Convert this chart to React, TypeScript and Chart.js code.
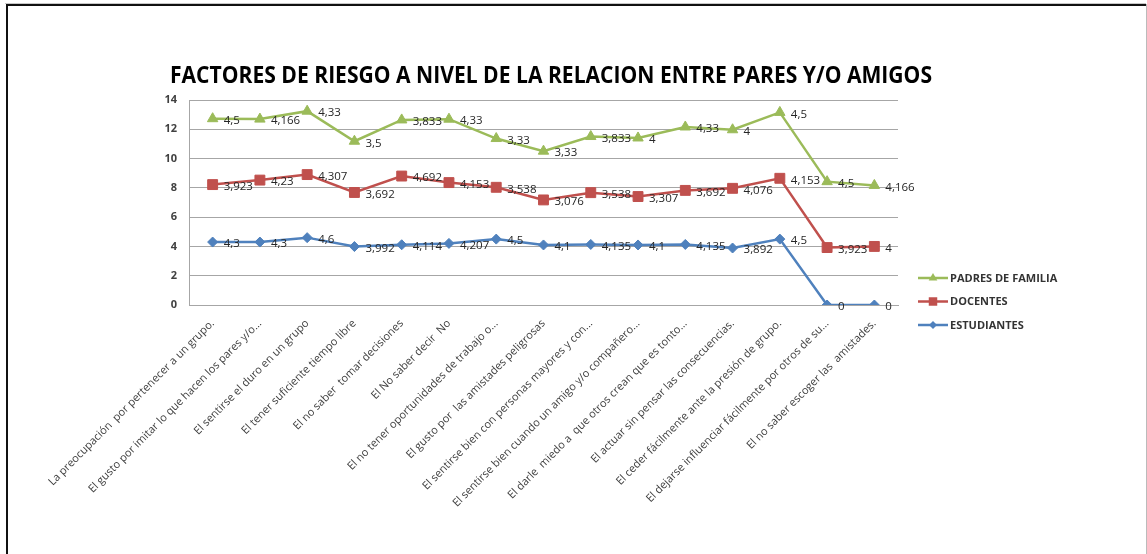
import React, { useEffect, useRef } from 'react';
import { Chart, registerables } from 'chart.js';

Chart.register(...registerables);

const chartTitle = 'FACTORES DE RIESGO A NIVEL DE LA RELACION ENTRE PARES Y/O AMIGOS';

const categories = [
  'La preocupación  por pertenecer a un grupo.',
  'El gusto por imitar lo que hacen los pares y/o...',
  'El sentirse el duro en un grupo',
  'El tener suficiente tiempo libre',
  'El no saber  tomar decisiones',
  'El No saber decir  No',
  'El no tener oportunidades de trabajo o...',
  'El gusto por  las amistades peligrosas',
  'El sentirse bien con personas mayores y con...',
  'El sentirse bien cuando un amigo y/o compañero...',
  'El darle  miedo a  que otros crean que es tonto...',
  'El actuar sin pensar las consecuencias.',
  'El ceder fácilmente ante la presión de grupo.',
  'El dejarse influenciar fácilmente por otros de su...',
  'El no saber escoger las  amistades.',
];

const estudiantes = [4.3, 4.3, 4.6, 3.992, 4.114, 4.207, 4.5, 4.1, 4.135, 4.1, 4.135, 3.892, 4.5, 0, 0];
const docentes = [3.923, 4.23, 4.307, 3.692, 4.692, 4.153, 3.538, 3.076, 3.538, 3.307, 3.692, 4.076, 4.153, 3.923, 4];
const padres = [4.5, 4.166, 4.33, 3.5, 3.833, 4.33, 3.33, 3.33, 3.833, 4, 4.33, 4, 4.5, 4.5, 4.166];

const yMin = 0;
const yMax = 14;
const yStep = 2;

const GREEN = '#9BBB59';
const RED = '#C0504D';
const BLUE = '#4F81BD';

function drawMarker(ctx: CanvasRenderingContext2D, style: string, x: number, y: number, r: number, color: string) {
  ctx.save();
  ctx.fillStyle = color;
  ctx.beginPath();
  if (style === 'triangle') {
    ctx.moveTo(x, y - r);
    ctx.lineTo(x + r * 0.866, y + r * 0.5);
    ctx.lineTo(x - r * 0.866, y + r * 0.5);
  } else if (style === 'rect') {
    const s = r * Math.SQRT1_2;
    ctx.rect(x - s, y - s, 2 * s, 2 * s);
  } else {
    ctx.moveTo(x, y - r);
    ctx.lineTo(x + r, y);
    ctx.lineTo(x, y + r);
    ctx.lineTo(x - r, y);
  }
  ctx.closePath();
  ctx.fill();
  ctx.restore();
}

const customPlugin = {
  id: 'customDecor',
  beforeDraw(chart: any) {
    const { ctx, width, height } = chart;
    ctx.save();
    ctx.fillStyle = '#ffffff';
    ctx.fillRect(0, 0, width, height);
    ctx.fillStyle = '#c8c8c8';
    ctx.fillRect(5, 3, 1141, 1);
    ctx.fillStyle = '#111111';
    ctx.fillRect(6, 4, 1140, 2);
    ctx.fillRect(6, 4, 2, height - 4);
    ctx.fillStyle = '#bbbbbb';
    ctx.fillRect(1146, 4, 1, height - 4);
    ctx.restore();
  },
  afterDatasetsDraw(chart: any) {
    const { ctx } = chart;
    ctx.save();
    ctx.font = '11.5px "Open Sans"';
    ctx.fillStyle = '#262626';
    ctx.textAlign = 'left';
    ctx.textBaseline = 'middle';
    chart.data.datasets.forEach((ds: any, di: number) => {
      const meta = chart.getDatasetMeta(di);
      meta.data.forEach((pt: any, i: number) => {
        const v = ds.data[i];
        const txt = String(v).replace('.', ',');
        ctx.fillText(txt, pt.x + 11, pt.y + 2);
      });
    });
    ctx.restore();
  },
  afterDraw(chart: any) {
    const { ctx } = chart;
    // title
    ctx.save();
    ctx.font = 'bold 24px "Open Sans"';
    ctx.fillStyle = '#000000';
    ctx.textBaseline = 'alphabetic';
    ctx.textAlign = 'left';
    const w = ctx.measureText(chartTitle).width;
    const target = 762;
    const sx = target / w;
    ctx.translate(170, 83);
    ctx.scale(sx, 1);
    ctx.fillText(chartTitle, 0, 0);
    ctx.restore();

    // legend
    ctx.save();
    const items = [...chart.data.datasets].reverse();
    const ys = [278, 301.5, 325];
    items.forEach((ds: any, i: number) => {
      const y = ys[i];
      ctx.strokeStyle = ds.borderColor;
      ctx.lineWidth = 2.5;
      ctx.beginPath();
      ctx.moveTo(918, y);
      ctx.lineTo(948, y);
      ctx.stroke();
      const r = ds.pointStyle === 'triangle' ? 5 : ds.pointStyle === 'rect' ? 6 : 4;
      drawMarker(ctx, ds.pointStyle, 933, y, r, ds.borderColor);
      ctx.font = 'bold 11px "Open Sans"';
      ctx.fillStyle = '#333333';
      ctx.textBaseline = 'middle';
      ctx.textAlign = 'left';
      ctx.fillText(ds.label, 950, y + 0.5);
    });
    ctx.restore();
  },
};

export default function App() {
  const canvasRef = useRef<HTMLCanvasElement | null>(null);

  useEffect(() => {
    if (!canvasRef.current) return;
    const chart = new Chart(canvasRef.current, {
      type: 'line',
      data: {
        labels: categories,
        datasets: [
          {
            label: 'ESTUDIANTES',
            data: estudiantes,
            borderColor: BLUE,
            backgroundColor: BLUE,
            pointStyle: 'rectRot',
            pointRadius: 5,
            pointBorderWidth: 1,
            borderWidth: 2.5,
            tension: 0,
            fill: false,
          },
          {
            label: 'DOCENTES',
            data: docentes,
            borderColor: RED,
            backgroundColor: RED,
            pointStyle: 'rect',
            pointRadius: 7,
            pointBorderWidth: 1,
            borderWidth: 2.5,
            tension: 0,
            fill: false,
          },
          {
            label: 'PADRES DE FAMILIA',
            data: padres,
            borderColor: GREEN,
            backgroundColor: GREEN,
            pointStyle: 'triangle',
            pointRadius: 6,
            pointBorderWidth: 1,
            borderWidth: 2.5,
            tension: 0,
            fill: false,
          },
        ],
      },
      options: {
        responsive: false,
        animation: false,
        devicePixelRatio: 1,
        layout: { padding: { left: 149, right: 249, top: 100, bottom: 0 } },
        plugins: {
          legend: { display: false },
          title: { display: false },
          tooltip: { enabled: false },
        },
        scales: {
          x: {
            offset: true,
            grid: { display: false, drawTicks: false },
            border: { display: true, color: '#a6a6a6', width: 1 },
            ticks: {
              autoSkip: false,
              minRotation: 45,
              maxRotation: 45,
              padding: 12,
              color: '#404040',
              font: { family: '"Open Sans"', size: 11 },
            },
            afterFit: (s: any) => {
              s.height = 249;
            },
          },
          y: {
            stacked: true,
            min: yMin,
            max: yMax,
            grid: { color: '#a6a6a6', drawTicks: false },
            border: { display: true, color: '#a6a6a6', width: 1 },
            ticks: {
              stepSize: yStep,
              padding: 12,
              color: '#404040',
              font: { family: '"Open Sans"', size: 11, weight: 'bold' },
            },
            afterFit: (s: any) => {
              s.width = 40;
            },
          },
        },
      },
      plugins: [customPlugin],
    } as any);
    return () => chart.destroy();
  }, []);

  return (
    <div style={{ position: 'fixed', left: 0, top: 0, width: 1147, height: 554 }}>
      <canvas ref={canvasRef} width={1147} height={554} style={{ display: 'block', width: 1147, height: 554 }} />
    </div>
  );
}
